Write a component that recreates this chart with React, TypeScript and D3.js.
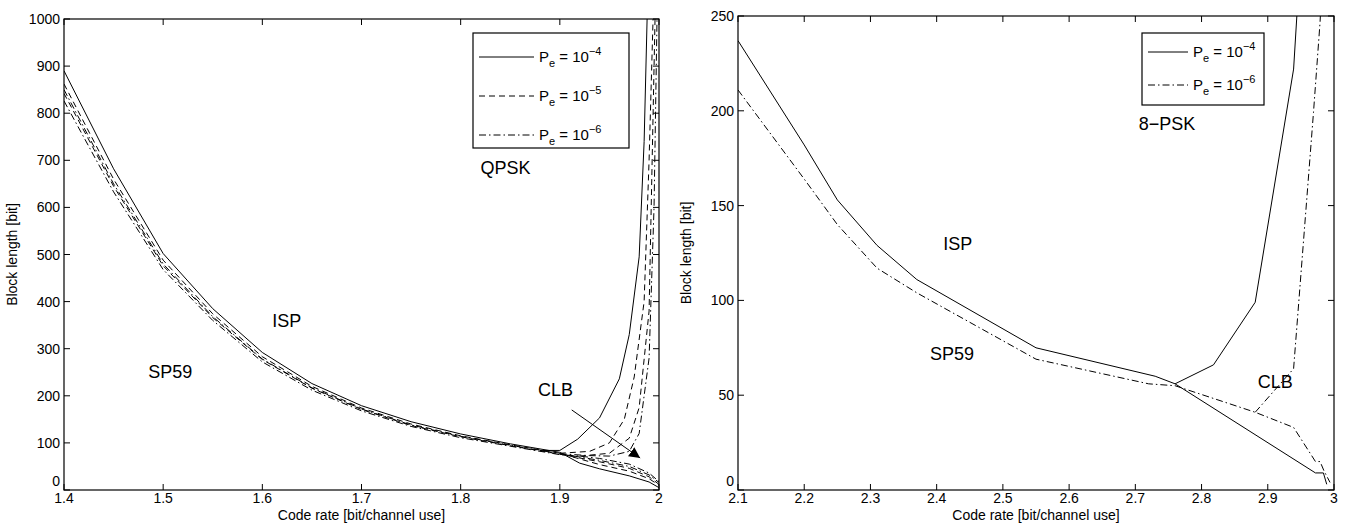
import React from "react";
import * as d3 from "d3";

// ---------- Left panel (QPSK) data ----------
const qpskXTicks = [1.4, 1.5, 1.6, 1.7, 1.8, 1.9, 2.0];
const qpskYTicks = [0, 100, 200, 300, 400, 500, 600, 700, 800, 900, 1000];

const qpskRateMain = [1.4, 1.45, 1.5, 1.55, 1.6, 1.65, 1.7, 1.75, 1.8, 1.85, 1.9, 1.92, 1.94, 1.97, 1.99, 2.0];
const qpskIspPe4 = [890, 682, 502, 385, 292, 226, 179, 145, 119, 98, 80, 57, 45, 30, 17, 5];
const qpskIspPe5 = [862, 660, 488, 374, 283, 220, 174, 140, 115, 96, 78, 66, 54, 40, 24, 10];
const qpskIspPe6 = [850, 650, 480, 368, 278, 217, 172, 138, 114, 95, 77, 70, 63, 50, 32, 16];
const qpskSpPe5 = [842, 645, 476, 366, 277, 216, 171, 137, 113, 94, 76, 68, 60, 46, 28, 12];
const qpskSpPe6 = [826, 633, 468, 360, 272, 212, 168, 135, 111, 93, 75, 72, 67, 55, 36, 18];

const qpskClbPe4Rate = [1.88, 1.9, 1.918, 1.94, 1.96, 1.97, 1.98, 1.985, 1.988];
const qpskClbPe4 = [84, 84, 108, 153, 236, 330, 495, 740, 1000];
const qpskClbPe5Rate = [1.9, 1.93, 1.95, 1.965, 1.975, 1.985, 1.99, 1.994];
const qpskClbPe5 = [78, 82, 100, 150, 240, 400, 700, 1000];
const qpskClbPe5bRate = [1.92, 1.95, 1.97, 1.98, 1.99, 1.996];
const qpskClbPe5b = [72, 78, 110, 175, 380, 1000];
const qpskClbPe6Rate = [1.9, 1.93, 1.95, 1.97, 1.98, 1.99, 1.995, 1.998];
const qpskClbPe6 = [77, 73, 72, 82, 120, 280, 600, 1000];

// ---------- Right panel (8-PSK) data ----------
const psk8XTicks = [2.1, 2.2, 2.3, 2.4, 2.5, 2.6, 2.7, 2.8, 2.9, 3.0];
const psk8YTicks = [0, 50, 100, 150, 200, 250];

const psk8Pe4Rate = [2.1, 2.2, 2.25, 2.31, 2.37, 2.55, 2.73, 2.76, 2.972, 2.984, 2.989];
const psk8Pe4 = [237, 182, 153, 129, 111, 75, 60, 56, 9, 9, 3];
const psk8ClbPe4Rate = [2.76, 2.818, 2.881, 2.939, 2.946];
const psk8ClbPe4 = [56, 66, 99, 222, 262];
const psk8Pe6Rate = [2.1, 2.2, 2.25, 2.31, 2.37, 2.55, 2.72, 2.76, 2.881, 2.939, 2.972, 2.979, 2.985, 2.994];
const psk8Pe6 = [211, 164, 140, 117, 104, 69, 56, 55, 41, 33, 15, 15, 10, 4];
const psk8ClbPe6Rate = [2.881, 2.939, 2.969, 2.979, 2.981];
const psk8ClbPe6 = [41, 64, 199, 247, 262];

const legendQpsk = ["−4", "−5", "−6"];
const legendPsk8 = ["−4", "−6"];

const FONT = "'Liberation Sans', Arial, Helvetica, sans-serif";
const DASHED = "6,4";
const DASHDOT = "7,3,1.5,3";

type Series = { xs: number[]; ys: number[]; dash?: string };
type Label = { text: string; x: number; y: number };
type LegendEntry = { dash?: string; exp: string };
type Legend = { x: number; y: number; w: number; h: number; first: number; rowH: number; lineLen: number; entries: LegendEntry[] };

function zip(xs: number[], ys: number[]): [number, number][] {
  return xs.map((x, i) => [x, ys[i]]);
}

function fmt(t: number) {
  return String(+t.toFixed(1));
}

function Panel(props: {
  id: string;
  left: number;
  right: number;
  top: number;
  bottom: number;
  xDomain: [number, number];
  yDomain: [number, number];
  xTicks: number[];
  yTicks: number[];
  series: Series[];
  labels: Label[];
  legend: Legend;
  arrow?: { from: [number, number]; to: [number, number] };
  yLabelX: number;
}) {
  const { left, right, top, bottom } = props;
  const x = d3.scaleLinear().domain(props.xDomain).range([left, right]);
  const y = d3.scaleLinear().domain(props.yDomain).range([bottom, top]);
  const line = d3
    .line<[number, number]>()
    .x((d) => x(d[0]))
    .y((d) => y(d[1]));
  const tl = 6;
  const lg = props.legend;
  return (
    <g>
      <defs>
        <clipPath id={props.id + "clip"}>
          <rect x={left} y={top} width={right - left} height={bottom - top} />
        </clipPath>
        <marker id={props.id + "arrow"} viewBox="0 0 10 10" refX="10" refY="5" markerWidth="11" markerHeight="11" markerUnits="userSpaceOnUse" orient="auto">
          <path d="M0,0 L10,5 L0,10 z" fill="#000" />
        </marker>
      </defs>
      <g clipPath={`url(#${props.id}clip)`}>
        {props.series.map((s, i) => (
          <path key={i} d={line(zip(s.xs, s.ys)) || ""} fill="none" stroke="#000" strokeWidth={1} strokeDasharray={s.dash} />
        ))}
      </g>
      <rect x={left} y={top} width={right - left} height={bottom - top} fill="none" stroke="#000" strokeWidth={1.2} />
      {props.xTicks.map((t, i) => (
        <g key={"xt" + i}>
          <line x1={x(t)} x2={x(t)} y1={bottom} y2={bottom - tl} stroke="#000" />
          <line x1={x(t)} x2={x(t)} y1={top} y2={top + tl} stroke="#000" />
          <text x={x(t)} y={bottom + 13} textAnchor="middle" fontSize={14} fontFamily={FONT}>
            {fmt(t)}
          </text>
        </g>
      ))}
      {props.yTicks.map((t, i) => (
        <g key={"yt" + i}>
          <line x1={left} x2={left + tl} y1={y(t)} y2={y(t)} stroke="#000" />
          <line x1={right} x2={right - tl} y1={y(t)} y2={y(t)} stroke="#000" />
          <text x={left - 4} y={y(t) + (i === 0 ? -4 : 5)} textAnchor="end" fontSize={14} fontFamily={FONT}>
            {fmt(t)}
          </text>
        </g>
      ))}
      <text x={(left + right) / 2} y={bottom + 30} textAnchor="middle" fontSize={14} fontFamily={FONT}>
        Code rate [bit/channel use]
      </text>
      <text transform={`translate(${props.yLabelX},${(top + bottom) / 2}) rotate(-90)`} textAnchor="middle" fontSize={14} fontFamily={FONT}>
        Block length [bit]
      </text>
      {props.labels.map((l, i) => (
        <text key={"lb" + i} x={x(l.x)} y={y(l.y)} dy="0.35em" fontSize={18} fontFamily={FONT}>
          {l.text}
        </text>
      ))}
      {props.arrow && (
        <line
          x1={x(props.arrow.from[0])}
          y1={y(props.arrow.from[1])}
          x2={x(props.arrow.to[0])}
          y2={y(props.arrow.to[1])}
          stroke="#000"
          strokeWidth={1}
          markerEnd={`url(#${props.id}arrow)`}
        />
      )}
      <rect x={lg.x} y={lg.y} width={lg.w} height={lg.h} fill="#fff" stroke="#000" strokeWidth={1.2} />
      {lg.entries.map((e, i) => {
        const cy = lg.y + lg.first + i * lg.rowH;
        return (
          <g key={"lg" + i}>
            <line x1={lg.x + 6} x2={lg.x + 6 + lg.lineLen} y1={cy} y2={cy} stroke="#000" strokeDasharray={e.dash} />
            <text x={lg.x + 11 + lg.lineLen} y={cy + 5} fontSize={15} fontFamily={FONT}>
              <tspan>P</tspan>
              <tspan dy={5} fontSize={11}>e</tspan>
              <tspan dy={-5}> = 10</tspan>
              <tspan dy={-7} fontSize={11}>{e.exp}</tspan>
            </text>
          </g>
        );
      })}
    </g>
  );
}

export default function App() {
  const qpskSeries: Series[] = [
    { xs: qpskRateMain, ys: qpskIspPe4 },
    { xs: qpskRateMain, ys: qpskIspPe5, dash: DASHED },
    { xs: qpskRateMain, ys: qpskSpPe5, dash: DASHED },
    { xs: qpskRateMain, ys: qpskIspPe6, dash: DASHDOT },
    { xs: qpskRateMain, ys: qpskSpPe6, dash: DASHDOT },
    { xs: qpskClbPe4Rate, ys: qpskClbPe4 },
    { xs: qpskClbPe5Rate, ys: qpskClbPe5, dash: DASHED },
    { xs: qpskClbPe5bRate, ys: qpskClbPe5b, dash: DASHED },
    { xs: qpskClbPe6Rate, ys: qpskClbPe6, dash: DASHDOT },
  ];
  const psk8Series: Series[] = [
    { xs: psk8Pe4Rate, ys: psk8Pe4 },
    { xs: psk8ClbPe4Rate, ys: psk8ClbPe4 },
    { xs: psk8Pe6Rate, ys: psk8Pe6, dash: DASHDOT },
    { xs: psk8ClbPe6Rate, ys: psk8ClbPe6, dash: DASHDOT },
  ];
  return (
    <svg width={1348} height={525} style={{ position: "absolute", left: 0, top: 0, background: "#fff" }}>
      <rect x={0} y={0} width={1348} height={525} fill="#fff" />
      <Panel
        id="qpsk"
        left={64}
        right={659}
        top={19}
        bottom={490}
        xDomain={[1.4, 2.0]}
        yDomain={[0, 1000]}
        xTicks={qpskXTicks}
        yTicks={qpskYTicks}
        series={qpskSeries}
        labels={[
          { text: "QPSK", x: 1.82, y: 685 },
          { text: "ISP", x: 1.61, y: 360 },
          { text: "SP59", x: 1.485, y: 252 },
          { text: "CLB", x: 1.878, y: 212 },
        ]}
        legend={{ x: 473, y: 33, w: 156, h: 115, first: 24, rowH: 39, lineLen: 55, entries: [{ exp: legendQpsk[0] }, { dash: DASHED, exp: legendQpsk[1] }, { dash: DASHDOT, exp: legendQpsk[2] }] }}
        arrow={{ from: [1.912, 170], to: [1.981, 68] }}
        yLabelX={17}
      />
      <Panel
        id="psk8"
        left={738}
        right={1334}
        top={16}
        bottom={490}
        xDomain={[2.1, 3.0]}
        yDomain={[0, 250]}
        xTicks={psk8XTicks}
        yTicks={psk8YTicks}
        series={psk8Series}
        labels={[
          { text: "8−PSK", x: 2.705, y: 193 },
          { text: "ISP", x: 2.41, y: 130 },
          { text: "SP59", x: 2.39, y: 72 },
          { text: "CLB", x: 2.885, y: 57 },
        ]}
        legend={{ x: 1142, y: 33, w: 122, h: 72, first: 19, rowH: 33, lineLen: 40, entries: [{ exp: legendPsk8[0] }, { dash: DASHDOT, exp: legendPsk8[1] }] }}
        yLabelX={691}
      />
    </svg>
  );
}
